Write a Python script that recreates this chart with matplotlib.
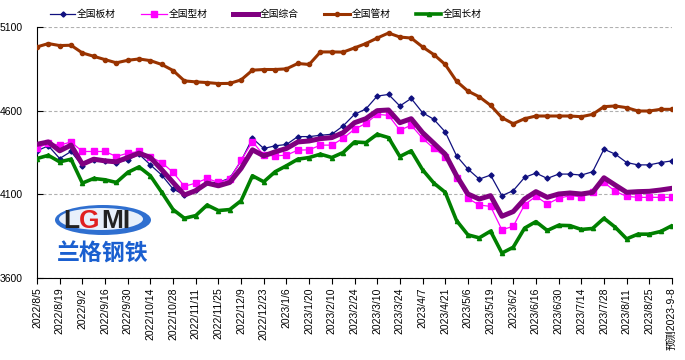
import numpy as np
import matplotlib
matplotlib.use('Agg')
import matplotlib.pyplot as plt
from matplotlib.patches import Ellipse

plt.rcParams['font.family'] = ['Liberation Sans', 'Noto Sans CJK SC', 'DejaVu Sans']

# 横轴标签（每两周一个）
tick_labels = ['2022/8/5', '2022/8/19', '2022/9/2', '2022/9/16', '2022/9/30',
               '2022/10/14', '2022/10/28', '2022/11/11', '2022/11/25', '2022/12/9',
               '2022/12/23', '2023/1/6', '2023/1/20', '2023/2/10', '2023/2/24',
               '2023/3/10', '2023/3/24', '2023/4/7', '2023/4/21', '2023/5/6',
               '2023/5/19', '2023/6/2', '2023/6/16', '2023/6/30', '2023/7/14',
               '2023/7/28', '2023/8/11', '2023/8/25', '预测2023-9-8']

names = ['全国板材', '全国型材', '全国综合', '全国管材', '全国长材']

plate = [4360, 4390, 4314, 4356, 4270, 4306, 4300, 4290, 4306, 4340,
         4276, 4215, 4132, 4096, 4128, 4171, 4171, 4197, 4300, 4435,
         4374, 4390, 4398, 4445, 4445, 4453, 4459, 4509, 4578, 4610,
         4687, 4697, 4628, 4673, 4588, 4548, 4473, 4330, 4251, 4191,
         4215, 4092, 4122, 4201, 4227, 4195, 4221, 4221, 4215, 4235,
         4370, 4340, 4290, 4276, 4276, 4290, 4300]

section = [4376, 4405, 4394, 4413, 4356, 4356, 4356, 4326, 4346, 4356,
           4324, 4290, 4231, 4148, 4167, 4195, 4171, 4191, 4304, 4415,
           4334, 4330, 4334, 4364, 4366, 4394, 4394, 4435, 4489, 4524,
           4578, 4572, 4483, 4513, 4435, 4374, 4326, 4195, 4076, 4036,
           4028, 3888, 3909, 4038, 4088, 4042, 4076, 4092, 4086, 4112,
           4171, 4118, 4088, 4082, 4082, 4082, 4082]

composite = [4399, 4413, 4360, 4394, 4280, 4310, 4300, 4294, 4320, 4346,
             4320, 4247, 4171, 4096, 4122, 4167, 4151, 4171, 4255, 4366,
             4330, 4354, 4374, 4413, 4419, 4433, 4439, 4469, 4528, 4552,
             4600, 4604, 4528, 4552, 4469, 4405, 4340, 4211, 4102, 4072,
             4092, 3969, 3997, 4072, 4116, 4082, 4102, 4108, 4102, 4112,
             4199, 4155, 4112, 4116, 4118, 4126, 4136]

pipe = [4981, 5001, 4989, 4991, 4945, 4925, 4905, 4886, 4901, 4909,
        4899, 4876, 4840, 4778, 4772, 4768, 4762, 4763, 4784, 4842,
        4846, 4846, 4850, 4882, 4876, 4951, 4951, 4950, 4975, 5001,
        5034, 5064, 5040, 5034, 4981, 4935, 4876, 4776, 4717, 4683,
        4632, 4558, 4522, 4552, 4568, 4568, 4568, 4568, 4564, 4578,
        4624, 4628, 4618, 4598, 4598, 4608, 4608]

long_ = [4314, 4333, 4294, 4310, 4167, 4195, 4187, 4171, 4231, 4264,
         4211, 4112, 4009, 3957, 3973, 4036, 4003, 4009, 4062, 4211,
         4175, 4235, 4271, 4310, 4320, 4340, 4320, 4350, 4413, 4409,
         4459, 4439, 4326, 4360, 4247, 4167, 4112, 3943, 3858, 3840,
         3880, 3749, 3784, 3898, 3937, 3884, 3915, 3913, 3890, 3896,
         3957, 3903, 3834, 3862, 3862, 3878, 3913]

x = np.arange(len(plate))

fig = plt.figure(figsize=(6.85, 3.6), dpi=100)
ax = fig.add_axes([37/685, 1-278/360, 635/685, 251/360])

# 各系列
ax.plot(x, plate, color='#10107f', lw=0.9, marker='D', ms=2.6, label=names[0], zorder=3)
ax.plot(x, section, color='#ff00ff', lw=0.9, marker='s', ms=4.3, label=names[1], zorder=3)
ax.plot(x, composite, color='#800080', lw=3.6, solid_joinstyle='round', label=names[2], zorder=4)
ax.plot(x, pipe, color='#993300', lw=2.2, marker='o', ms=3.0, label=names[3], zorder=3)
ax.plot(x, long_, color='#008000', lw=2.6, marker='^', ms=3.0, label=names[4], zorder=3)

ax.set_xlim(0, len(plate) - 1)
ax.set_ylim(3600, 5100)
ax.set_yticks([3600, 4100, 4600, 5100])
ax.set_xticks(np.arange(0, len(plate), 2))
ax.set_xticklabels(tick_labels, rotation=90, fontsize=7.5)
ax.tick_params(axis='y', direction='in', length=4, labelsize=7.5, pad=10)
ax.tick_params(axis='x', direction='out', length=4, pad=3)

# 网格线
ax.yaxis.grid(True, linestyle=(0, (3, 2)), color='#b0b0b0', lw=0.8)
ax.set_axisbelow(True)
for s in ['top', 'right']:
    ax.spines[s].set_visible(False)

# 图例
fig.legend(loc='center', bbox_to_anchor=(266/685, 1-14/360), ncol=5, frameon=False,
           fontsize=7, handlelength=2.6, columnspacing=2.6, handletextpad=0.2)

# 兰格钢铁 logo
fig.add_artist(Ellipse((103/685, 1-220/360), 96/685, 30/360, transform=fig.transFigure,
                       facecolor='#2f6fd0', edgecolor='none', zorder=5))
fig.add_artist(Ellipse((101/685, 1-219/360), 84/685, 22/360, transform=fig.transFigure,
                       facecolor='#e8f0fb', edgecolor='none', zorder=5))
fig.text(63/685, 1-221/360, 'L', fontsize=19, fontweight='bold', color='#222222',
         ha='left', va='center', zorder=6)
fig.text(79/685, 1-221/360, 'G', fontsize=19, fontweight='bold', color='#e02020',
         ha='left', va='center', zorder=6)
fig.text(101/685, 1-221/360, 'MI', fontsize=19, fontweight='bold', color='#222222',
         ha='left', va='center', zorder=6)
fig.text(103/685, 1-254/360, '兰格钢铁', fontsize=16.5, fontweight='bold', color='#1a5fd0',
         ha='center', va='center', family=['Noto Sans CJK SC'], zorder=6)

fig.savefig('out.png', dpi=100)
